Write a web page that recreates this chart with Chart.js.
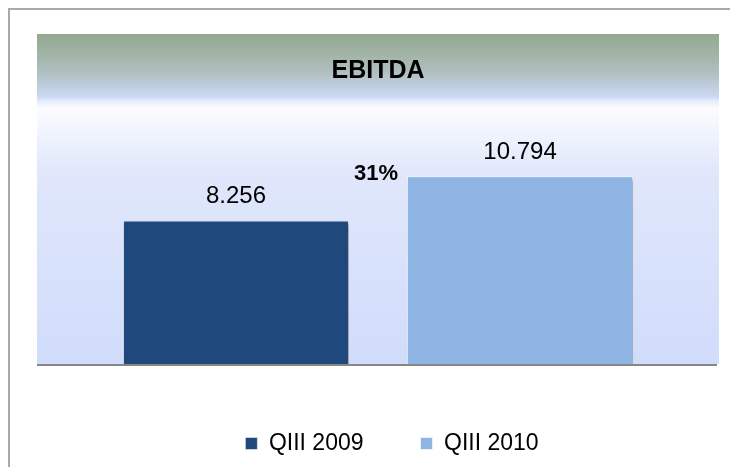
<!DOCTYPE html>
<html>
<head>
<meta charset="utf-8">
<script src="https://cdn.jsdelivr.net/npm/chart.js@4/dist/chart.umd.min.js"></script>
<style>
  html, body { margin: 0; padding: 0; background: #fff; }
  #wrap { width: 730px; height: 467px; position: relative; }
</style>
</head>
<body>
<div id="wrap"><canvas id="ebitdaChart"></canvas></div>
<script>
const categories = [''];
const seriesNames = ['QIII 2009', 'QIII 2010'];
const q3_2009 = [8256];
const q3_2010 = [10794];
const growthLabel = '31%';
const chartTitle = 'EBITDA';

function fmt(v){
  return String(v).replace(/\B(?=(\d{3})+(?!\d))/g, '.');
}

// frame + plot background gradient (title band and light blue area)
const backdrop = {
  id: 'backdrop',
  afterLayout(chart){
    // legend sits a bit right of centre in the original
    chart.legend.left += 14;
    chart.legend.right += 14;
  },
  beforeDraw(chart){
    const ctx = chart.ctx;
    const a = chart.chartArea;
    const top = chart.titleBlock.top;
    ctx.save();
    ctx.strokeStyle = '#a9a9a9';
    ctx.lineWidth = 2;
    ctx.strokeRect(9, 9, 800, 600);
    const g = ctx.createLinearGradient(0, top, 0, a.bottom);
    g.addColorStop(0, '#93a98e');
    g.addColorStop(0.11, '#aebdbc');
    g.addColorStop(0.19, '#cbd8f4');
    g.addColorStop(0.205, '#e8eefc');
    g.addColorStop(0.225, '#fbfcff');
    g.addColorStop(0.42, '#e0e7fb');
    g.addColorStop(1, '#d1dcfb');
    ctx.fillStyle = g;
    ctx.fillRect(a.left, top, a.right - a.left, a.bottom - top);
    ctx.restore();
  },
  beforeDatasetsDraw(chart){
    const ctx = chart.ctx;
    ctx.save();
    ctx.shadowColor = 'rgba(0,0,0,0.35)';
    ctx.shadowBlur = 4;
    ctx.shadowOffsetX = 2;
    ctx.shadowOffsetY = 3;
  },
  afterDatasetsDraw(chart){
    const ctx = chart.ctx;
    ctx.restore();
    const a = chart.chartArea;
    ctx.save();
    ctx.strokeStyle = '#878787';
    ctx.lineWidth = 2;
    ctx.beginPath();
    ctx.moveTo(a.left, a.bottom + 1);
    ctx.lineTo(a.right - 2, a.bottom + 1);
    ctx.stroke();

    ctx.fillStyle = '#000';
    ctx.textAlign = 'center';
    ctx.textBaseline = 'middle';
    ctx.font = '24px "Liberation Sans", Arial, sans-serif';
    chart.data.datasets.forEach((ds, i) => {
      chart.getDatasetMeta(i).data.forEach((bar, j) => {
        ctx.fillText(fmt(ds.data[j]), bar.x, bar.y - 24);
      });
    });
    const b2 = chart.getDatasetMeta(1).data[0];
    ctx.font = 'bold 22px "Liberation Sans", Arial, sans-serif';
    ctx.textAlign = 'right';
    ctx.fillText(growthLabel, b2.x - b2.width / 2 - 9, b2.y - 2);
    ctx.restore();
  }
};

new Chart(document.getElementById('ebitdaChart'), {
  type: 'bar',
  data: {
    labels: categories,
    datasets: [
      { label: seriesNames[0], data: q3_2009, backgroundColor: '#1f497d', borderColor: 'rgba(255,255,255,0.5)', borderWidth: 1 },
      { label: seriesNames[1], data: q3_2010, backgroundColor: '#8eb4e3', borderColor: 'rgba(255,255,255,0.6)', borderWidth: 1 }
    ]
  },
  options: {
    responsive: true,
    maintainAspectRatio: false,
    animation: false,
    categoryPercentage: 0.833,
    barPercentage: 0.796,
    layout: { padding: { top: 34, left: 37, right: 11, bottom: 2 } },
    scales: {
      x: { display: false },
      y: { display: false, min: 0, max: 14900 }
    },
    plugins: {
      tooltip: { enabled: false },
      title: {
        display: true,
        text: chartTitle,
        color: '#000',
        font: { family: '"Liberation Sans", Arial, sans-serif', size: 25, weight: 'bold', lineHeight: 1.2 },
        padding: { top: 22, bottom: 19 }
      },
      legend: {
        position: 'bottom',
        title: { display: true, text: ' ', font: { size: 1, lineHeight: 1 }, padding: { top: 10, bottom: 0 } },
        labels: {
          color: '#000',
          boxWidth: 12,
          boxHeight: 12,
          padding: 57,
          font: { family: '"Liberation Sans", Arial, sans-serif', size: 23 }
        }
      }
    }
  },
  plugins: [backdrop]
});
</script>
</body>
</html>
